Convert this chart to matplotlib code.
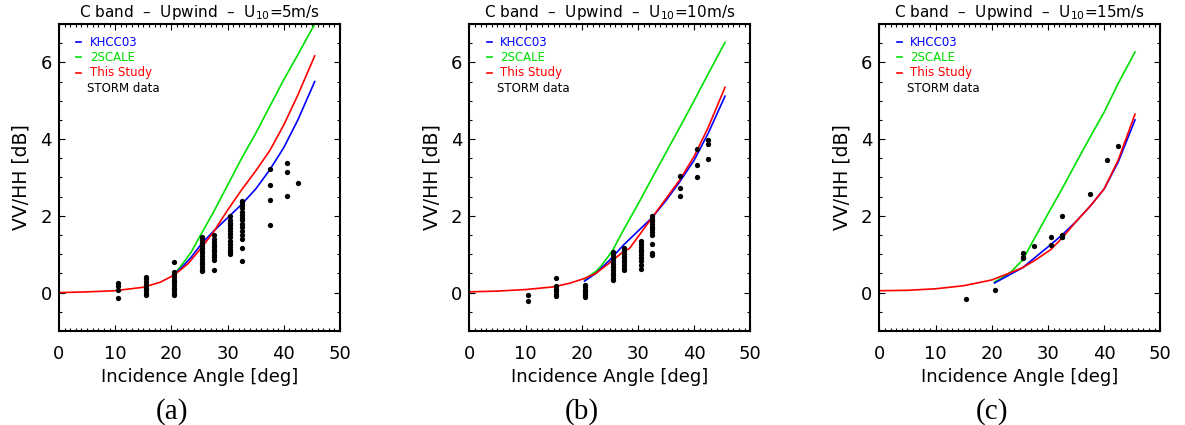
import matplotlib
matplotlib.use("Agg")
import matplotlib.pyplot as plt
from matplotlib.ticker import MultipleLocator
from matplotlib.lines import Line2D

plt.rcParams['font.family'] = ['DejaVu Sans']
plt.rcParams['mathtext.fontset'] = 'dejavusans'

# ---------------- data ----------------
titles = ["C band  –  Upwind  –  U$_{10}$=5m/s",
          "C band  –  Upwind  –  U$_{10}$=10m/s",
          "C band  –  Upwind  –  U$_{10}$=15m/s"]
captions = ["(a)", "(b)", "(c)"]
legend_labels = ["KHCC03", "2SCALE", "This Study", "STORM data"]
legend_colors = ["#0000ff", "#00e000", "#ff0000", "black"]

# Panel (a) U10 = 5 m/s
a_red_x = [0, 5, 10, 15, 18, 20.5, 23, 25.5, 27.5, 30, 32.5, 35, 37.5, 40, 42.5, 45.5]
a_red_y = [0.0, 0.02, 0.05, 0.14, 0.27, 0.46, 0.76, 1.2, 1.58, 2.15, 2.68, 3.17, 3.7, 4.37, 5.15, 6.17]
a_blue_x = [20.5, 22, 23.5, 25.5, 27.5, 30, 32.5, 35, 37.5, 40, 42.5, 45.5]
a_blue_y = [0.47, 0.68, 0.92, 1.3, 1.6, 1.95, 2.3, 2.7, 3.2, 3.78, 4.5, 5.5]
a_green_x = [20.5, 22, 23.5, 25, 27.5, 30, 32.5, 35, 37.5, 40, 42.5, 45.5]
a_green_y = [0.48, 0.75, 1.05, 1.45, 2.1, 2.8, 3.5, 4.15, 4.85, 5.55, 6.2, 7.0]
a_pts_x = ([10.5] * 4 + [15.5] * 8 + [20.5] * 11 + [25.5] * 14 + [27.5] * 11 +
           [30.5] * 14 + [32.5] * 15 + [37.5] * 4 + [40.5] * 3 + [42.5])
a_pts_y = ([0.25, 0.16, 0.06, -0.14] +
           [0.42, 0.35, 0.28, 0.2, 0.13, 0.06, 0.0, -0.05] +
           [0.79, 0.54, 0.48, 0.41, 0.34, 0.28, 0.21, 0.13, 0.06, -0.01, -0.07] +
           [1.44, 1.37, 1.3, 1.23, 1.16, 1.09, 1.02, 0.95, 0.88, 0.81, 0.74, 0.67, 0.6, 0.56] +
           [1.5, 1.4, 1.32, 1.25, 1.18, 1.12, 1.05, 0.98, 0.92, 0.85, 0.58] +
           [2.0, 1.9, 1.82, 1.75, 1.68, 1.6, 1.52, 1.45, 1.35, 1.28, 1.2, 1.12, 1.05, 1.0] +
           [2.4, 2.35, 2.28, 2.2, 2.1, 2.02, 1.95, 1.88, 1.8, 1.7, 1.6, 1.5, 1.4, 1.15, 0.82] +
           [3.21, 2.8, 2.41, 1.76] +
           [3.38, 3.15, 2.52] +
           [2.86])

# Panel (b) U10 = 10 m/s
b_red_x = [0, 5, 10, 15, 18, 20.5, 22.5, 25, 27.5, 28.5, 30, 32.5, 35, 37.5, 40, 42.5, 45.5]
b_red_y = [0.02, 0.04, 0.08, 0.15, 0.25, 0.37, 0.5, 0.78, 1.08, 1.15, 1.45, 1.95, 2.45, 2.95, 3.55, 4.3, 5.35]
b_blue_x = [20.5, 22.5, 25, 27.5, 30, 32.5, 35, 37.5, 40, 42.5, 45.5]
b_blue_y = [0.3, 0.5, 0.85, 1.25, 1.6, 1.95, 2.4, 2.9, 3.45, 4.15, 5.12]
b_green_x = [20.5, 22.5, 23.5, 25.5, 27.5, 30, 32.5, 35, 37.5, 40, 42.5, 45.5]
b_green_y = [0.35, 0.55, 0.7, 1.1, 1.65, 2.3, 2.98, 3.65, 4.32, 5.0, 5.7, 6.52]
b_pts_x = ([10.5] * 2 + [15.5] * 6 + [20.5] * 7 + [25.5] * 11 + [27.5] * 9 +
           [30.5] * 10 + [32.5] * 11 + [37.5] * 3 + [40.5] * 3 + [42.5] * 3)
b_pts_y = ([-0.05, -0.22] +
           [0.38, 0.16, 0.1, 0.03, -0.03, -0.1] +
           [0.2, 0.14, 0.08, 0.03, -0.02, -0.07, -0.12] +
           [1.06, 0.98, 0.9, 0.82, 0.75, 0.68, 0.6, 0.52, 0.45, 0.38, 0.32] +
           [1.15, 1.08, 1.0, 0.93, 0.86, 0.79, 0.72, 0.65, 0.58] +
           [1.35, 1.28, 1.2, 1.12, 1.05, 0.98, 0.9, 0.82, 0.72, 0.62] +
           [2.0, 1.93, 1.86, 1.79, 1.72, 1.65, 1.58, 1.5, 1.28, 1.04, 0.99] +
           [3.04, 2.72, 2.51] +
           [3.74, 3.32, 3.0] +
           [3.99, 3.87, 3.47])

# Panel (c) U10 = 15 m/s
c_red_x = [0, 5, 10, 15, 20, 23, 25.5, 28, 30.5, 32.5, 35, 37.5, 40, 42.5, 45.5]
c_red_y = [0.05, 0.06, 0.1, 0.18, 0.33, 0.5, 0.65, 0.87, 1.12, 1.42, 1.85, 2.25, 2.7, 3.45, 4.65]
c_blue_x = [20.5, 23, 25.5, 28, 30.5, 32.5, 35, 37.5, 40, 42.5, 45.5]
c_blue_y = [0.25, 0.45, 0.65, 0.95, 1.25, 1.5, 1.85, 2.25, 2.7, 3.4, 4.5]
c_green_x = [20.5, 22, 23.5, 25.5, 27, 30, 32.5, 35, 37.5, 40, 42.5, 45.5]
c_green_y = [0.28, 0.4, 0.55, 0.85, 1.25, 2.05, 2.7, 3.38, 4.05, 4.7, 5.45, 6.27]
c_pts_x = [15.5, 20.5, 25.5, 25.5, 25.5, 27.5, 30.5, 30.5, 32.5, 32.5, 32.5, 32.5, 37.5, 40.5, 42.5]
c_pts_y = [-0.16, 0.08, 1.04, 0.93, 0.89, 1.21, 1.45, 1.23, 2.0, 1.5, 1.45, 1.44, 2.58, 3.45, 3.82]

panels = [
    (a_blue_x, a_blue_y, a_green_x, a_green_y, a_red_x, a_red_y, a_pts_x, a_pts_y),
    (b_blue_x, b_blue_y, b_green_x, b_green_y, b_red_x, b_red_y, b_pts_x, b_pts_y),
    (c_blue_x, c_blue_y, c_green_x, c_green_y, c_red_x, c_red_y, c_pts_x, c_pts_y),
]

# ---------------- figure ----------------
fig = plt.figure(figsize=(11.85, 4.25), dpi=100)
lefts = [59 / 1185, 469.3 / 1185, 879.3 / 1185]
W = 281 / 1185
B = 1 - 331 / 425
H = 307 / 425

for i, (bx, by, gx, gy, rx, ry, px, py) in enumerate(panels):
    ax = fig.add_axes([lefts[i], B, W, H])
    ax.plot(gx, gy, color=legend_colors[1], lw=1.2, clip_on=True)
    ax.plot(bx, by, color=legend_colors[0], lw=1.2)
    ax.plot(rx, ry, color=legend_colors[2], lw=1.2)
    ax.plot(px, py, 'o', color='black', ms=3.8, mec='none')

    ax.set_xlim(0, 50)
    ax.set_ylim(-1, 7)
    ax.xaxis.set_major_locator(MultipleLocator(10))
    ax.xaxis.set_minor_locator(MultipleLocator(1))
    ax.yaxis.set_major_locator(MultipleLocator(2))
    ax.yaxis.set_minor_locator(MultipleLocator(0.5))
    ax.tick_params(which='both', direction='in', top=True, right=True, width=0.8)
    ax.tick_params(which='major', length=4.5)
    ax.tick_params(which='minor', length=2.4)
    ax.tick_params(axis='x', which='major', labelsize=13, pad=10)
    ax.tick_params(axis='y', which='major', labelsize=13, pad=5)
    for s in ax.spines.values():
        s.set_linewidth(1.5)

    ax.set_xlabel("Incidence Angle [deg]", fontsize=13, labelpad=4)
    ax.set_ylabel("VV/HH [dB]", fontsize=13.5, labelpad=7)
    ax.set_title(titles[i], fontsize=11, pad=5)

    # legend drawn IDL-style
    ys = [0.940, 0.891, 0.841, 0.791]
    for k in range(3):
        ax.add_line(Line2D([0.062, 0.08], [ys[k], ys[k]], transform=ax.transAxes,
                           color=legend_colors[k], lw=1.2))
        ax.text(0.11, ys[k], legend_labels[k], transform=ax.transAxes,
                color=legend_colors[k], fontsize=8.5, va='center', ha='left')
    ax.text(0.099, ys[3], legend_labels[3], transform=ax.transAxes,
            color='black', fontsize=8.5, va='center', ha='left')

    ax.text(0.401, -0.263, captions[i], transform=ax.transAxes, ha='center', va='center',
            fontsize=21, family='Liberation Serif')

fig.savefig("out.png", dpi=100)
